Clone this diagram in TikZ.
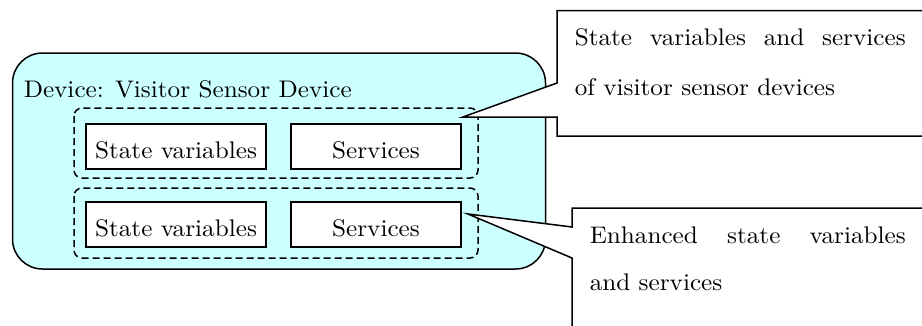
\documentclass[tikz,border=0pt]{standalone}
\usepackage{fontspec}
\setmainfont{lmroman10-regular.otf}[FakeStretch=1.05]
\definecolor{devfill}{HTML}{CCFFFF}
\begin{document}
\begin{tikzpicture}[x=1pt,y=-1pt,line width=1.5pt,
  lbl/.style={font=\fontsize{24}{28}\selectfont, inner sep=0pt},
  devbox/.style={draw, fill=devfill, rounded corners=30pt},
  grpbox/.style={draw, dash pattern=on 7pt off 4pt, rounded corners=8pt},
  itembox/.style={draw, fill=white, minimum width=180pt, minimum height=45pt, inner sep=0pt,
    text height=23.6pt, text depth=0pt, font=\fontsize{24}{28}\selectfont},
  callout/.style={draw, fill=white, line join=miter}]
\clip (0,0) rectangle (922,325);
\fill[white] (0,0) rectangle (922,325);
% device
\draw[devbox] (12.5,53) rectangle (545.5,269);
\node[lbl, anchor=base west] (title) at (23,97) {Device: Visitor Sensor Device};
% groups
\draw[grpbox] (74,108) rectangle (478,178);
\draw[grpbox] (74,188) rectangle (478,258);
% items
\node[itembox] (sv1) at (176,146.5) {State variables};
\node[itembox, minimum width=170pt] (se1) at (376,146.5) {Services};
\node[itembox] (sv2) at (176,224.5) {State variables};
\node[itembox, minimum width=170pt] (se2) at (376,224.5) {Services};
% callout 1
\coordinate (tip1) at (463,117);
\draw[callout] (557,83) -- (557,10.7) -- (940,10.7) -- (940,136) -- (557,136) -- (557,117) -- (tip1) -- cycle;
\node[lbl, anchor=base west] (c1a) at (574,45) {\makebox[331pt][s]{State variables and services}};
\node[lbl, anchor=base west] (c1b) at (574,95) {of visitor sensor devices};
% callout 2
\coordinate (tip2) at (468,214);
\draw[callout] (572,227) -- (572,208) -- (940,208) -- (940,340) -- (572,340) -- (572,258) -- (tip2) -- cycle;
\node[lbl, anchor=base west] (c2a) at (589,243) {\makebox[316pt][s]{Enhanced state variables}};
\node[lbl, anchor=base west] (c2b) at (589,290) {and services};
\end{tikzpicture}
\end{document}
